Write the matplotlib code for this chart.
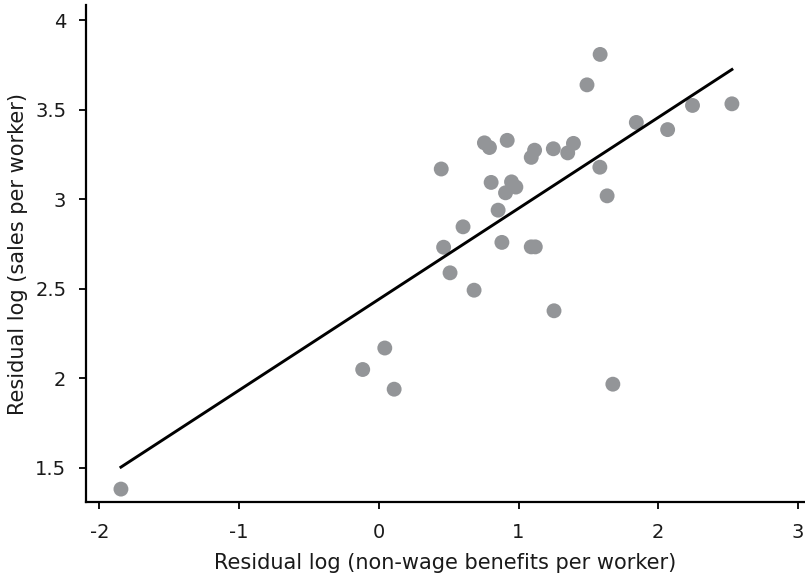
import matplotlib
matplotlib.use("Agg")
import matplotlib.pyplot as plt
import numpy as np

# DATA ########################################################################

benefits = [-1.845, -0.115, 0.043, 0.110, 0.447, 0.464, 0.510, 0.603, 0.682,
            0.756, 0.792, 0.804, 0.854, 0.881, 0.907, 0.919, 0.950, 0.981,
            1.091, 1.091, 1.115, 1.120, 1.249, 1.254, 1.352, 1.393, 1.490,
            1.582, 1.584, 1.634, 1.675, 1.843, 2.067, 2.245, 2.527]
sales = [1.382, 2.050, 2.170, 1.940, 3.170, 2.733, 2.590, 2.847, 2.493,
         3.316, 3.290, 3.095, 2.940, 2.760, 3.037, 3.330, 3.098, 3.069,
         2.735, 3.235, 3.275, 2.735, 3.283, 2.378, 3.260, 3.313, 3.640,
         3.180, 3.810, 3.020, 1.968, 3.430, 3.390, 3.525, 3.534]

fit_intercept = 2.442
fit_slope = 0.508

x_ticks = [-2, -1, 0, 1, 2, 3]
y_ticks = [1.5, 2, 2.5, 3, 3.5, 4]

# PLOT ########################################################################

plt.rcParams['font.family'] = ['DejaVu Sans']

fig = plt.figure(figsize=(8.05, 5.76), dpi=100)
ax = fig.add_axes([0.1065, 0.1285, 0.8935, 0.8625])

ax.scatter(benefits, sales, s=115, color='#939598', edgecolors='none', zorder=2)

x_fit = np.array([min(benefits), max(benefits)])
ax.plot(x_fit, fit_intercept + fit_slope * x_fit, color='black', lw=2.1, zorder=3)

ax.set_xlim(-2.097, 3.05)
ax.set_ylim(1.31, 4.085)
ax.set_xticks(x_ticks)
ax.set_xticklabels(['-2', '-1', '0', '1', '2', '3'])
ax.set_yticks(y_ticks)
ax.set_yticklabels(['1.5', '2', '2.5', '3', '3.5', '4'])

for side in ['top', 'right']:
    ax.spines[side].set_visible(False)
for side in ['left', 'bottom']:
    ax.spines[side].set_linewidth(1.6)
ax.tick_params(direction='out', length=5, width=1.3, labelsize=14,
               color='black', labelcolor='#1a1a1a')
ax.tick_params(axis='y', pad=9)
ax.tick_params(axis='x', pad=10)

ax.set_xlabel("Residual log (non-wage benefits per worker)", fontsize=15,
              color='#1a1a1a', labelpad=8)
ax.set_ylabel("Residual log (sales per worker)", fontsize=15,
              color='#1a1a1a', labelpad=5)

plt.savefig("out.png", dpi=100)
